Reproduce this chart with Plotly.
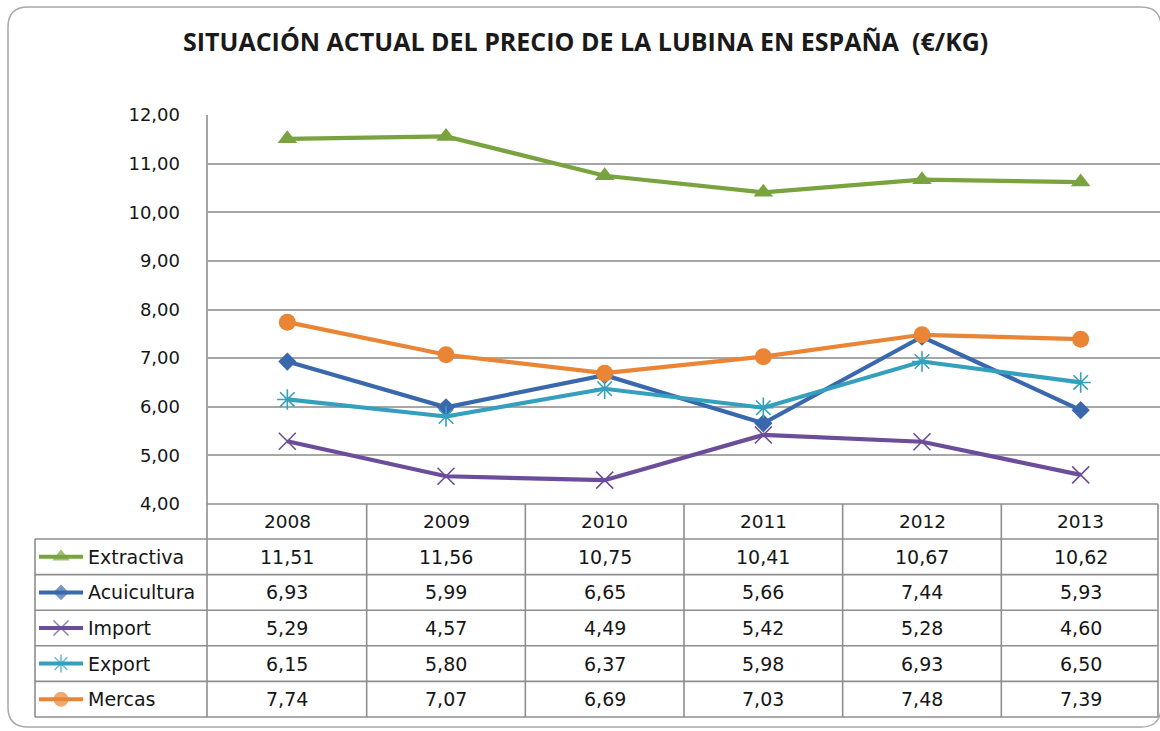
import plotly.graph_objects as go

# ---------------- data ----------------
years = ["2008", "2009", "2010", "2011", "2012", "2013"]
series_names = ["Extractiva", "Acuicultura", "Import", "Export", "Mercas"]
extractiva = [11.51, 11.56, 10.75, 10.41, 10.67, 10.62]
acuicultura = [6.93, 5.99, 6.65, 5.66, 7.44, 5.93]
import_vals = [5.29, 4.57, 4.49, 5.42, 5.28, 4.60]
export_vals = [6.15, 5.80, 6.37, 5.98, 6.93, 6.50]
mercas = [7.74, 7.07, 6.69, 7.03, 7.48, 7.39]
y_ticks = [4, 5, 6, 7, 8, 9, 10, 11, 12]
title_text = "SITUACIÓN ACTUAL DEL PRECIO DE LA LUBINA EN ESPAÑA  (€/KG)"

series_values = [extractiva, acuicultura, import_vals, export_vals, mercas]

# ---------------- styles ----------------
styles = [
    dict(color="#78A33E", symbol="triangle-up", size=17, mline="#78A33E", mlw=0),
    dict(color="#3A68AD", symbol="diamond", size=14, mline="#3A68AD", mlw=0),
    dict(color="#6C4D9A", symbol="x-thin-open", size=17, mline="#9C88C4", mlw=1.6),
    dict(color="#34A0BE", symbol="asterisk-open", size=17, mline="#5CB8D2", mlw=1.6),
    dict(color="#EA8535", symbol="circle", size=17, mline="#EA8535", mlw=0),
]

W, H = 1160, 731
L, R, T, B = 208, 1160, 115, 504          # plot area in pixels
ROW_TOP = 539                              # first data row top
ROW_H = 35.6
LEG_LEFT = 35
FONT = "DejaVu Sans"
TXT = "#161616"
GRID = "#A6A6A6"
TBL = "#8E8E8E"

n = len(years)
col_w = (R - L) / n
col_centers = [L + (i + 0.5) * col_w for i in range(n)]

fig = go.Figure()

for name, vals, st in zip(series_names, series_values, styles):
    fig.add_trace(go.Scatter(
        x=list(range(n)), y=vals, name=name, mode="lines+markers",
        line=dict(color=st["color"], width=4.2),
        marker=dict(symbol=st["symbol"], size=st["size"], color=st["color"],
                    line=dict(color=st["mline"], width=st["mlw"])),
        xaxis="x", yaxis="y", showlegend=False, cliponaxis=False,
    ))

for k, (name, st) in enumerate(zip(series_names, styles)):
    yc = ROW_TOP + (k + 0.5) * ROW_H
    fig.add_trace(go.Scatter(
        x=[39, 61, 83], y=[yc, yc, yc], mode="lines+markers",
        line=dict(color=st["color"], width=4),
        marker=dict(symbol=st["symbol"], size=[0, st["size"] - 2, 0], color=st["color"],
                    line=dict(color=st["mline"], width=st["mlw"])),
        xaxis="x2", yaxis="y2", showlegend=False, hoverinfo="skip",
    ))

shapes = []
def line(x0, y0, x1, y1, color=TBL, width=1.6):
    shapes.append(dict(type="line", xref="x2", yref="y2", x0=x0, y0=y0, x1=x1, y1=y1,
                       line=dict(color=color, width=width)))

r = 20
x0b, y0b, x1b, y1b = 8, 7, 1161, 727
path = (f"M {x0b+r},{y0b} L {x1b-r},{y0b} Q {x1b},{y0b} {x1b},{y0b+r} "
        f"L {x1b},{y1b-r} Q {x1b},{y1b} {x1b-r},{y1b} L {x0b+r},{y1b} "
        f"Q {x0b},{y1b} {x0b},{y1b-r} L {x0b},{y0b+r} Q {x0b},{y0b} {x0b+r},{y0b} Z")
shapes.append(dict(type="path", xref="x2", yref="y2", path=path,
                   line=dict(color="#A8A8A8", width=1.5)))

line(L - 1, B, 1158, B)
for k in range(len(series_names) + 1):
    yy = ROW_TOP + k * ROW_H
    line(LEG_LEFT, yy, 1158, yy)
line(LEG_LEFT, ROW_TOP, LEG_LEFT, ROW_TOP + len(series_names) * ROW_H)
line(L - 1, T, L - 1, ROW_TOP + len(series_names) * ROW_H)
for i in range(1, n):
    xx = L + i * col_w
    line(xx, B, xx, ROW_TOP + len(series_names) * ROW_H)
line(1158, B, 1158, ROW_TOP + len(series_names) * ROW_H)

annotations = []
annotations.append(dict(text=f"<b>{title_text}</b>", xref="x2", yref="y2", x=585, y=41,
                        showarrow=False, font=dict(family="Open Sans", size=25, color="#1A1A1A"),
                        xanchor="center", yanchor="middle"))
for xc, yr in zip(col_centers, years):
    annotations.append(dict(text=yr, xref="x2", yref="y2", x=xc, y=(B + ROW_TOP) / 2,
                            showarrow=False, font=dict(family=FONT, size=18.5, color=TXT)))
def fmt(v):
    return f"{v:.2f}".replace(".", ",")
for k, (name, vals) in enumerate(zip(series_names, series_values)):
    yc = ROW_TOP + (k + 0.5) * ROW_H
    annotations.append(dict(text=name, xref="x2", yref="y2", x=86, y=yc, xanchor="left",
                            showarrow=False, font=dict(family=FONT, size=19, color=TXT)))
    for xc, v in zip(col_centers, vals):
        annotations.append(dict(text=fmt(v), xref="x2", yref="y2", x=xc, y=yc,
                                showarrow=False, font=dict(family=FONT, size=19, color=TXT)))

fig.update_layout(
    width=W, height=H, margin=dict(l=0, r=0, t=0, b=0, pad=0, autoexpand=False),
    paper_bgcolor="white", plot_bgcolor="rgba(0,0,0,0)",
    separators=",.",
    xaxis=dict(domain=[L / W, R / W], range=[-0.5, n - 0.5], showticklabels=False,
               showgrid=False, zeroline=False, showline=False, fixedrange=True, anchor="y",
               automargin=False),
    yaxis=dict(domain=[(H - B) / H, (H - T) / H], range=[4, 12], tickvals=y_ticks,
               tickformat=".2f", showgrid=True, gridcolor=GRID, gridwidth=2,
               zeroline=False, showline=False, ticks="", ticklabelstandoff=27,
               tickfont=dict(family=FONT, size=18, color=TXT), fixedrange=True, anchor="x",
               automargin=False),
    xaxis2=dict(domain=[0, 1], range=[0, W], visible=False, fixedrange=True, anchor="y2",
                automargin=False),
    yaxis2=dict(domain=[0, 1], range=[H, 0], visible=False, fixedrange=True, anchor="x2",
                automargin=False),
    shapes=shapes, annotations=annotations, showlegend=False,
)

fig.write_html(
    "out.html",
    config={"displayModeBar": False},
    post_script="document.body.style.margin='0px';document.body.style.overflow='hidden';",
)
